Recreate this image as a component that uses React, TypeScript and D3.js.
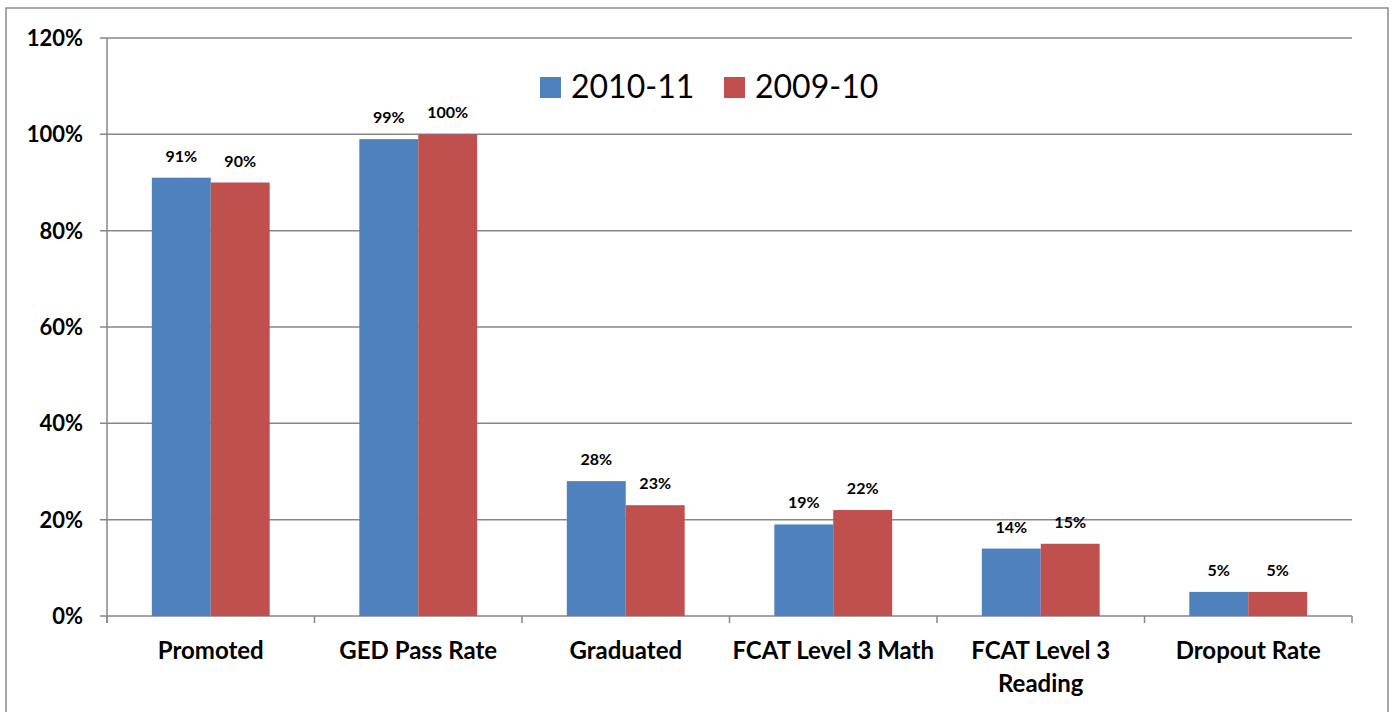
import React from "react";
import * as d3 from "d3";

const categories: string[][] = [
  ["Promoted"],
  ["GED Pass Rate"],
  ["Graduated"],
  ["FCAT Level 3 Math"],
  ["FCAT Level 3", "Reading"],
  ["Dropout Rate"],
];
const series2010: number[] = [91, 99, 28, 19, 14, 5];
const series2009: number[] = [90, 100, 23, 22, 15, 5];
const seriesNames = ["2010-11", "2009-10"];
const seriesColors = ["#4F81BD", "#C0504D"];
const yTicks = [0, 20, 40, 60, 80, 100, 120];

const W = 1395;
const H = 712;
const left = 107;
const right = 1352;
const top = 38;
const bottom = 616;
const FONT = "Lato, 'Open Sans', sans-serif";

export default function App() {
  const x = d3
    .scaleBand<number>()
    .domain(d3.range(categories.length))
    .range([left, right])
    .paddingInner(0)
    .paddingOuter(0);
  const y = d3.scaleLinear().domain([0, 120]).range([bottom, top]);
  const bw = x.bandwidth();
  const barW = bw * 0.284;
  const data = [series2010, series2009];
  return (
    <svg
      width={W}
      height={H}
      style={{ position: "absolute", left: 0, top: 0, background: "#fff" }}
    >
      <rect x={6} y={8} width={1382} height={H} fill="#fff" stroke="#8a8a8a" strokeWidth={1.5} />
      {yTicks.map((t) => (
        <g key={t}>
          <line x1={100} x2={right} y1={y(t)} y2={y(t)} stroke="#878787" strokeWidth={1.5} />
          <text
            x={83}
            y={y(t)}
            dy="0.36em"
            textAnchor="end"
            fontFamily={FONT}
            fontWeight={700}
            fontSize={22}
            fill="#000"
          >
            {t}%
          </text>
        </g>
      ))}
      <line x1={left} x2={left} y1={top} y2={bottom + 7} stroke="#878787" strokeWidth={1.5} />
      {d3.range(categories.length + 1).map((i) => {
        const xx = i < categories.length ? (x(i) as number) : right;
        return <line key={i} x1={xx} x2={xx} y1={bottom} y2={bottom + 7} stroke="#878787" strokeWidth={1.5} />;
      })}
      {categories.map((c, i) => {
        const cx = (x(i) as number) + bw / 2;
        return (
          <g key={i}>
            {data.map((s, k) => {
              const bx = cx - barW + k * barW;
              return (
                <g key={k}>
                  <rect
                    x={bx}
                    y={y(s[i])}
                    width={barW}
                    height={bottom - y(s[i])}
                    fill={seriesColors[k]}
                  />
                  <text
                    x={bx + barW / 2}
                    y={y(s[i]) - 16}
                    textAnchor="middle"
                    fontFamily={FONT}
                    fontWeight={700}
                    fontSize={16}
                    fill="#000"
                  >
                    {s[i]}%
                  </text>
                </g>
              );
            })}
            {c.map((line, j) => (
              <text
                key={j}
                x={cx}
                y={659 + j * 33}
                textAnchor="middle"
                fontFamily={FONT}
                fontWeight={700}
                fontSize={24}
                fill="#000"
              >
                {line}
              </text>
            ))}
          </g>
        );
      })}
      {seriesNames.map((n, k) => {
        const lx = [540, 724][k];
        return (
          <g key={n}>
            <rect x={lx} y={77} width={21} height={21} fill={seriesColors[k]} />
            <text x={lx + 31} y={98} fontFamily={FONT} fontSize={32} fill="#000">
              {n}
            </text>
          </g>
        );
      })}
    </svg>
  );
}
